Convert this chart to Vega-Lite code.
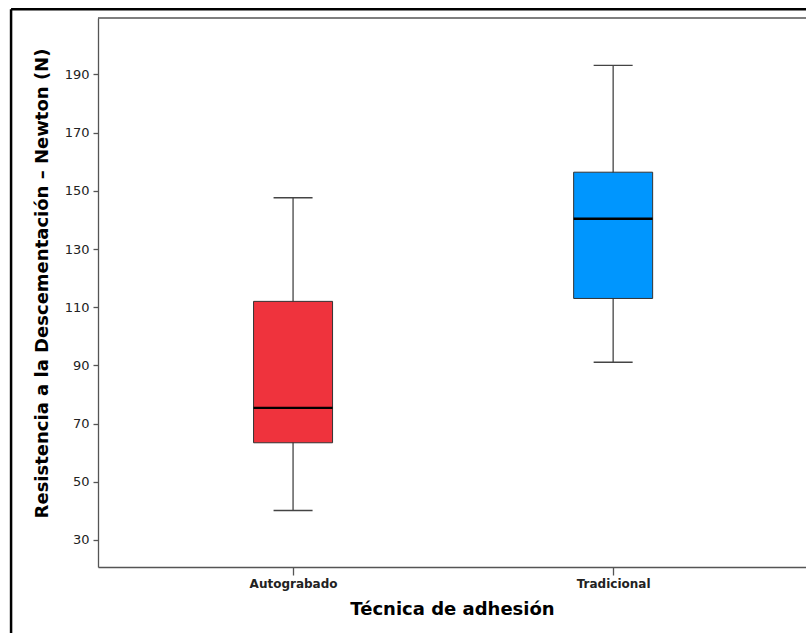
{
  "$schema": "https://vega.github.io/schema/vega-lite/v6.json",
  "width": 708,
  "height": 549,
  "autosize": {"type": "none"},
  "padding": {"left": 98, "top": 18, "right": 0, "bottom": 66},
  "background": "white",
  "config": {"view": {"stroke": null}, "font": "DejaVu Sans"},
  "data": {"values": [
    {"tecnica": "Autograbado", "pos": 1, "min": 40.1, "q1": 63.4, "median": 75.4, "q3": 112.0, "max": 147.6},
    {"tecnica": "Tradicional", "pos": 2, "min": 91.1, "q1": 113.0, "median": 140.4, "q3": 156.4, "max": 193.1}
  ]},
  "layer": [
    {
      "mark": {"type": "rule", "color": "#444", "strokeWidth": 1.3},
      "encoding": {
        "x": {"field": "pos", "type": "quantitative", "scale": {"domain": [0.3906, 2.6025], "nice": false, "zero": false, "padding": 0},
          "axis": {"values": [1, 2], "labelExpr": "datum.value == 1 ? 'Autograbado' : 'Tradicional'", "grid": false,
            "domainColor": "#555", "domainWidth": 1.3, "tickColor": "#555", "tickWidth": 1.3, "tickSize": 8,
            "labelFontSize": 12, "labelFontWeight": "bold", "labelColor": "#222", "labelPadding": 3,
            "title": "Técnica de adhesión", "titleFontSize": 18, "titleFontWeight": "bold", "titleColor": "black", "titlePadding": 11}},
        "y": {"field": "min", "type": "quantitative", "scale": {"domain": [20.7, 209.4], "nice": false, "zero": false, "padding": 0},
          "axis": {"values": [30, 50, 70, 90, 110, 130, 150, 170, 190], "grid": false,
            "domainColor": "#555", "domainWidth": 1.3, "tickColor": "#555", "tickWidth": 1.3, "tickSize": 5,
            "labelFontSize": 13, "labelColor": "#222", "labelPadding": 4,
            "title": "Resistencia a la Descementación – Newton (N)", "titleFontSize": 18, "titleFontWeight": "bold", "titleColor": "black", "titlePadding": 13, "titleY": 265}},
        "y2": {"field": "max"}
      }
    },
    {
      "mark": {"type": "bar", "size": 79, "stroke": "#333", "strokeWidth": 1},
      "encoding": {
        "x": {"field": "pos", "type": "quantitative"},
        "y": {"field": "q1", "type": "quantitative"},
        "y2": {"field": "q3"},
        "fill": {"field": "tecnica", "type": "nominal", "scale": {"domain": ["Autograbado", "Tradicional"], "range": ["#EF333D", "#0096FE"]}, "legend": null}
      }
    },
    {
      "mark": {"type": "tick", "orient": "horizontal", "size": 79, "thickness": 2.4, "color": "#000", "opacity": 1},
      "encoding": {
        "x": {"field": "pos", "type": "quantitative"},
        "y": {"field": "median", "type": "quantitative"}
      }
    },
    {
      "mark": {"type": "tick", "orient": "horizontal", "size": 39, "thickness": 1.4, "color": "#444", "opacity": 1},
      "encoding": {
        "x": {"field": "pos", "type": "quantitative"},
        "y": {"field": "min", "type": "quantitative"}
      }
    },
    {
      "mark": {"type": "tick", "orient": "horizontal", "size": 39, "thickness": 1.4, "color": "#444", "opacity": 1},
      "encoding": {
        "x": {"field": "pos", "type": "quantitative"},
        "y": {"field": "max", "type": "quantitative"}
      }
    },
    {
      "data": {"values": [{"top": 209.4}]},
      "mark": {"type": "rule", "color": "#555", "strokeWidth": 1.3},
      "encoding": {"y": {"field": "top", "type": "quantitative"}}
    },
    {
      "data": {"values": [{"fx": 0.119, "fy": 212.4, "fy2": -12}]},
      "mark": {"type": "rule", "color": "#000", "strokeWidth": 2.5, "clip": false},
      "encoding": {
        "x": {"field": "fx", "type": "quantitative"},
        "y": {"field": "fy", "type": "quantitative"},
        "y2": {"field": "fy2"}
      }
    },
    {
      "data": {"values": [{"fx": 0.119, "fx2": 2.7, "fy": 212.4}]},
      "mark": {"type": "rule", "color": "#000", "strokeWidth": 2.5, "clip": false},
      "encoding": {
        "x": {"field": "fx", "type": "quantitative"},
        "x2": {"field": "fx2"},
        "y": {"field": "fy", "type": "quantitative"}
      }
    }
  ]
}
